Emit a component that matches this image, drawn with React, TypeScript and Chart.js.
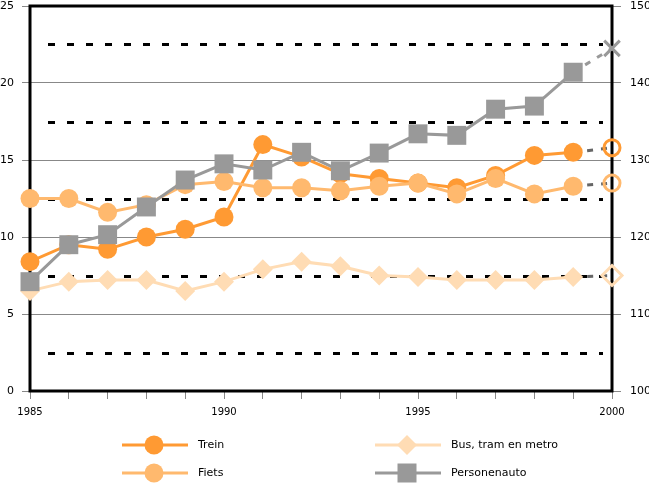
import React, { useEffect, useRef } from "react";
import { Chart, registerables } from "chart.js";

Chart.register(...registerables);

const years = ["1985","1986","1987","1988","1989","1990","1991","1992","1993","1994","1995","1996","1997","1998","1999","2000"];
const labeledYears = ["1985", "1990", "1995", "2000"];
const trein = [8.4, 9.5, 9.2, 10.0, 10.5, 11.3, 16.0, 15.2, 14.1, 13.8, 13.5, 13.2, 14.0, 15.3, 15.5, 15.8];
const fiets = [12.5, 12.5, 11.6, 12.1, 13.4, 13.6, 13.2, 13.2, 13.0, 13.3, 13.5, 12.8, 13.8, 12.8, 13.3, 13.5];
const bus = [6.5, 7.1, 7.2, 7.2, 6.5, 7.1, 7.9, 8.4, 8.1, 7.5, 7.4, 7.2, 7.2, 7.2, 7.4, 7.5];
const auto = [114.2, 119.0, 120.3, 123.9, 127.4, 129.5, 128.7, 131.0, 128.6, 130.9, 133.4, 133.2, 136.6, 137.0, 141.4, 144.5];
const dottedLevels = [2.5, 7.5, 12.5, 17.5, 22.5];
const seriesNames = ["Trein", "Fiets", "Bus, tram en metro", "Personenauto"];

const C_TREIN = "#ff9a33";
const C_FIETS = "#ffb96e";
const C_BUS = "#ffdcb4";
const C_AUTO = "#999999";
const FONT = "'DejaVu Sans', sans-serif";

const LAST = years.length - 1;

function arr<T>(normal: T, last: T): T[] {
  return years.map((_, i) => (i === LAST ? last : normal));
}

function makeDataset(label: string, data: number[], color: string, style: string, radius: number, lastStyle: string, lastRadius: number, dashColor: string, yAxisID: string, order: number) {
  return {
    label,
    data,
    yAxisID,
    order,
    borderColor: color,
    borderWidth: 3,
    pointStyle: arr(style, lastStyle),
    pointRadius: arr(radius, lastRadius),
    pointHoverRadius: arr(radius, lastRadius),
    pointBackgroundColor: arr(color, "rgba(0,0,0,0)"),
    pointBorderColor: arr(color, color),
    pointBorderWidth: arr(0, 3),
    clip: false as any,
    tension: 0,
    segment: {
      borderDash: (ctx: any) => (ctx.p1DataIndex === LAST ? [6, 8] : undefined),
      borderColor: (ctx: any) => (ctx.p1DataIndex === LAST ? dashColor : undefined),
    },
  };
}

const framePlugin = {
  id: "frame",
  beforeDatasetsDraw(chart: any) {
    const { ctx, chartArea } = chart;
    const y = chart.scales.y;
    ctx.save();
    ctx.strokeStyle = "#000";
    ctx.lineWidth = 3;
    ctx.setLineDash([7, 12]);
    dottedLevels.forEach((v) => {
      const py = Math.round(y.getPixelForValue(v)) + 0.5;
      ctx.beginPath();
      ctx.moveTo(chartArea.left + 18, py);
      ctx.lineTo(chartArea.right - 9, py);
      ctx.stroke();
    });
    ctx.setLineDash([]);
    ctx.lineWidth = 3;
    ctx.strokeStyle = "#000";
    ctx.strokeRect(chartArea.left, chartArea.top, chartArea.right - chartArea.left, chartArea.bottom - chartArea.top);
    ctx.restore();
  },
  afterDraw(chart: any) {
    const { ctx } = chart;
    const items = [
      { name: seriesNames[0], color: C_TREIN, shape: "circle", x: 122, y: 445 },
      { name: seriesNames[2], color: C_BUS, shape: "diamond", x: 375, y: 445 },
      { name: seriesNames[1], color: C_FIETS, shape: "circle", x: 122, y: 473 },
      { name: seriesNames[3], color: C_AUTO, shape: "square", x: 375, y: 473 },
    ];
    ctx.save();
    items.forEach((it) => {
      ctx.strokeStyle = it.color;
      ctx.fillStyle = it.color;
      ctx.lineWidth = 3;
      ctx.beginPath();
      ctx.moveTo(it.x, it.y);
      ctx.lineTo(it.x + 66, it.y);
      ctx.stroke();
      const cx = it.x + 32;
      ctx.beginPath();
      if (it.shape === "circle") {
        ctx.arc(cx, it.y, 9.5, 0, Math.PI * 2);
      } else if (it.shape === "diamond") {
        ctx.moveTo(cx - 10, it.y);
        ctx.lineTo(cx, it.y - 10);
        ctx.lineTo(cx + 10, it.y);
        ctx.lineTo(cx, it.y + 10);
        ctx.closePath();
      } else {
        ctx.rect(cx - 9.5, it.y - 9.5, 19, 19);
      }
      ctx.fill();
      ctx.fillStyle = "#000";
      ctx.font = "11px " + FONT;
      ctx.textBaseline = "middle";
      ctx.textAlign = "left";
      ctx.fillText(it.name, it.x + 76, it.y);
    });
    ctx.restore();
  },
};

export default function App() {
  const ref = useRef<HTMLCanvasElement | null>(null);
  useEffect(() => {
    if (!ref.current) return;
    const chart = new Chart(ref.current, {
      type: "line",
      data: {
        labels: years,
        datasets: [
          makeDataset(seriesNames[3], auto, C_AUTO, "rect", 13.4, "crossRot", 11, "#999999", "y2", 0),
          makeDataset(seriesNames[1], fiets, C_FIETS, "circle", 9.5, "circle", 8, "#666666", "y", 1),
          makeDataset(seriesNames[0], trein, C_TREIN, "circle", 9.5, "circle", 8, "#666666", "y", 2),
          makeDataset(seriesNames[2], bus, C_BUS, "rectRot", 10, "rectRot", 10, "#666666", "y", 3),
        ] as any,
      },
      options: {
        animation: false,
        responsive: true,
        maintainAspectRatio: false,
        layout: { autoPadding: false, padding: { top: 6, left: 0, right: 0, bottom: 0 } },
        plugins: { legend: { display: false }, tooltip: { enabled: false } },
        scales: {
          x: {
            type: "category",
            offset: false,
            grid: { drawOnChartArea: false, color: "#888", tickLength: 8, tickColor: "#888" },
            border: { display: false },
            ticks: {
              autoSkip: false,
              maxRotation: 0,
              padding: 7,
              color: "#000",
              font: { family: FONT, size: 10 },
              callback: function (this: any, val: any) {
                const l = years[val as number];
                return labeledYears.includes(l) ? l : "";
              },
            },
            afterFit: (s: any) => { s.height = 94; s.paddingLeft = 0; s.paddingRight = 0; },
          },
          y: {
            position: "left",
            min: 0,
            max: 25,
            ticks: { stepSize: 5, padding: 8, color: "#000", font: { family: FONT, size: 11 } },
            grid: {
              color: (c: any) => (c.tick && (c.tick.value === 0 || c.tick.value === 25) ? "rgba(0,0,0,0)" : "#888"),
              tickColor: "#888",
              tickLength: 8,
              lineWidth: 1,
            },
            border: { display: false },
            afterFit: (s: any) => { s.width = 30; s.paddingTop = 0; s.paddingBottom = 0; },
          },
          y2: {
            position: "right",
            min: 100,
            max: 150,
            ticks: { stepSize: 10, padding: 9, color: "#000", font: { family: FONT, size: 11 } },
            grid: { drawOnChartArea: false, tickColor: "#888", tickLength: 9 },
            border: { display: false },
            afterFit: (s: any) => { s.width = 37; s.paddingTop = 0; s.paddingBottom = 0; },
          },
        },
      },
      plugins: [framePlugin],
    });
    return () => chart.destroy();
  }, []);
  return (
    <div style={{ position: "absolute", left: 0, top: 0, width: 649, height: 485, background: "#fff" }}>
      <canvas ref={ref} />
    </div>
  );
}
